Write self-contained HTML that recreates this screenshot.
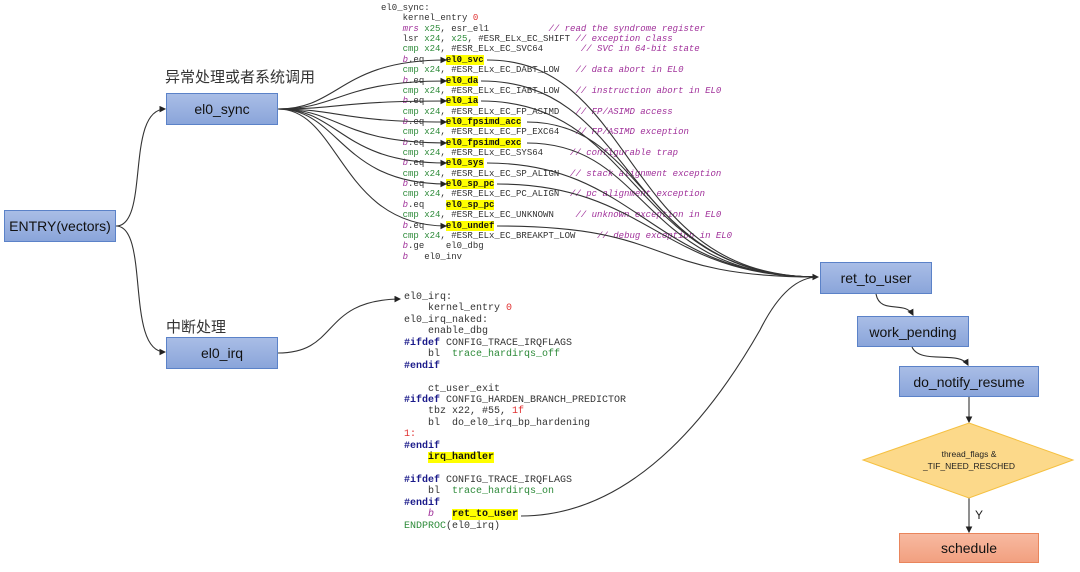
<!DOCTYPE html>
<html><head><meta charset="utf-8"><style>
html,body{margin:0;width:1080px;height:572px;background:#fff;position:relative;overflow:hidden;font-family:"Liberation Sans","Noto Sans CJK SC",sans-serif}
.box{position:absolute;box-sizing:border-box;border:1px solid #5b82c8;background:linear-gradient(#a9bde6,#8aa5da);color:#111;font-size:14px;display:flex;align-items:center;justify-content:center}
.lbl{position:absolute;font-size:15px;color:#333}
.code{position:absolute;font-family:"Liberation Mono",monospace;color:#333}
.code div{white-space:pre}
.c1 div{height:10.37px;line-height:10.37px;font-size:9px}
.c2 div{height:11.45px;line-height:11.45px;font-size:10px}
.g{color:#2e8b3a}.p{color:#a0309a;font-style:italic}.r{color:#e03030}.b{color:#1a1a8a;font-weight:bold}
.hl{background:#ffff00;font-weight:bold;color:#111}
.cm{color:#a0309a;font-style:italic}
svg{position:absolute;left:0;top:0}
</style></head><body>
<div class="lbl" style="left:165px;top:66px">异常处理或者系统调用</div>
<div class="lbl" style="left:166px;top:316px">中断处理</div>
<div class="box" style="left:4px;top:210px;width:112px;height:32px">ENTRY(vectors)</div>
<div class="box" style="left:166px;top:93px;width:112px;height:32px">el0_sync</div>
<div class="box" style="left:166px;top:337px;width:112px;height:32px">el0_irq</div>
<div class="box" style="left:820px;top:262px;width:112px;height:32px">ret_to_user</div>
<div class="box" style="left:857px;top:316px;width:112px;height:31px">work_pending</div>
<div class="box" style="left:899px;top:366px;width:140px;height:31px">do_notify_resume</div>
<div class="box" style="left:899px;top:533px;width:140px;height:30px;background:linear-gradient(#f7b9a0,#f2a080);border-color:#e9855c">schedule</div>
<div class="code c1" style="left:381px;top:3px"><div>el0_sync:</div><div>    kernel_entry <span class="r">0</span></div><div>    <span class="p">mrs</span> <span class="g">x25</span>, esr_el1           <span class="cm">// read the syndrome register</span></div><div>    lsr <span class="g">x24</span>, <span class="g">x25</span>, #ESR_ELx_EC_SHIFT <span class="cm">// exception class</span></div><div>    <span class="g">cmp x24</span>, #ESR_ELx_EC_SVC64       <span class="cm">// SVC in 64-bit state</span></div><div>    <span class="p">b</span>.eq    <span class="hl">el0_svc</span></div><div>    <span class="g">cmp x24</span>, #ESR_ELx_EC_DABT_LOW   <span class="cm">// data abort in EL0</span></div><div>    <span class="p">b</span>.eq    <span class="hl">el0_da</span></div><div>    <span class="g">cmp x24</span>, #ESR_ELx_EC_IABT_LOW   <span class="cm">// instruction abort in EL0</span></div><div>    <span class="p">b</span>.eq    <span class="hl">el0_ia</span></div><div>    <span class="g">cmp x24</span>, #ESR_ELx_EC_FP_ASIMD   <span class="cm">// FP/ASIMD access</span></div><div>    <span class="p">b</span>.eq    <span class="hl">el0_fpsimd_acc</span></div><div>    <span class="g">cmp x24</span>, #ESR_ELx_EC_FP_EXC64   <span class="cm">// FP/ASIMD exception</span></div><div>    <span class="p">b</span>.eq    <span class="hl">el0_fpsimd_exc</span></div><div>    <span class="g">cmp x24</span>, #ESR_ELx_EC_SYS64     <span class="cm">// configurable trap</span></div><div>    <span class="p">b</span>.eq    <span class="hl">el0_sys</span></div><div>    <span class="g">cmp x24</span>, #ESR_ELx_EC_SP_ALIGN  <span class="cm">// stack alignment exception</span></div><div>    <span class="p">b</span>.eq    <span class="hl">el0_sp_pc</span></div><div>    <span class="g">cmp x24</span>, #ESR_ELx_EC_PC_ALIGN  <span class="cm">// pc alignment exception</span></div><div>    <span class="p">b</span>.eq    <span class="hl">el0_sp_pc</span></div><div>    <span class="g">cmp x24</span>, #ESR_ELx_EC_UNKNOWN    <span class="cm">// unknown exception in EL0</span></div><div>    <span class="p">b</span>.eq    <span class="hl">el0_undef</span></div><div>    <span class="g">cmp x24</span>, #ESR_ELx_EC_BREAKPT_LOW    <span class="cm">// debug exception in EL0</span></div><div>    <span class="p">b</span>.ge    el0_dbg</div><div>    <span class="p">b</span>   el0_inv</div></div>
<div class="code c2" style="left:404px;top:292px"><div>el0_irq:</div><div>    kernel_entry <span class="r">0</span></div><div>el0_irq_naked:</div><div>    enable_dbg</div><div><span class="b">#ifdef</span> CONFIG_TRACE_IRQFLAGS</div><div>    bl  <span class="g">trace_hardirqs_off</span></div><div><span class="b">#endif</span></div><div> </div><div>    ct_user_exit</div><div><span class="b">#ifdef</span> CONFIG_HARDEN_BRANCH_PREDICTOR</div><div>    tbz x22, #55, <span class="r">1f</span></div><div>    bl  do_el0_irq_bp_hardening</div><div><span class="r">1:</span></div><div><span class="b">#endif</span></div><div>    <span class="hl">irq_handler</span></div><div> </div><div><span class="b">#ifdef</span> CONFIG_TRACE_IRQFLAGS</div><div>    bl  <span class="g">trace_hardirqs_on</span></div><div><span class="b">#endif</span></div><div>    <span class="p">b</span>   <span class="hl">ret_to_user</span></div><div><span class="g">ENDPROC</span>(el0_irq)</div></div>
<svg width="1080" height="572" viewBox="0 0 1080 572">
<defs><marker id="a" markerWidth="6" markerHeight="6" refX="5" refY="3" orient="auto"><path d="M0,0 L6,3 L0,6z" fill="#222"/></marker></defs>
<g fill="none" stroke="#333" stroke-width="1.1">
<path d="M116,226 C150,226 125,110 165,109" marker-end="url(#a)"/>
<path d="M116,226 C150,226 125,352 165,352" marker-end="url(#a)"/>
<path d="M278,353 C340,353 320,300 400,299" marker-end="url(#a)"/>
<path d="M278,109 C340,109 340,60 446,60" marker-end="url(#a)"/>
<path d="M278,109 C340,109 340,81 446,81" marker-end="url(#a)"/>
<path d="M278,109 C340,109 340,101 446,101" marker-end="url(#a)"/>
<path d="M278,109 C340,109 340,122 446,122" marker-end="url(#a)"/>
<path d="M278,109 C340,109 340,143 446,143" marker-end="url(#a)"/>
<path d="M278,109 C340,109 340,163 446,163" marker-end="url(#a)"/>
<path d="M278,109 C340,109 340,184 446,184" marker-end="url(#a)"/>
<path d="M278,109 C340,109 340,226 446,226" marker-end="url(#a)"/>
<path d="M487,60 C640,60 620,277 818,277"/>
<path d="M481,81 C640,81 620,277 818,277"/>
<path d="M481,101 C640,101 630,277 818,277"/>
<path d="M527,122 C650,122 640,277 818,277"/>
<path d="M527,143 C650,143 640,277 818,277"/>
<path d="M487,163 C640,163 650,277 818,277"/>
<path d="M497,184 C650,184 660,277 818,277"/>
<path d="M497,226 C680,226 640,277 818,277" marker-end="url(#a)"/>
<path d="M521,516 C640,516 720,400 760,330 C780,290 800,277 818,277"/>
<path d="M876,294 C880,315 905,300 913,315" marker-end="url(#a)"/>
<path d="M912,347 C920,365 960,350 968,365" marker-end="url(#a)"/>
<path d="M969,397 L969,422" marker-end="url(#a)"/>
<path d="M969,498 L969,532" marker-end="url(#a)"/>
</g>
<polygon points="969,423 1073,460 969,498 863,460" fill="#fcd98a" stroke="#f5c040"/>
<text x="969" y="457" font-size="8.5" text-anchor="middle" fill="#222" font-family="Liberation Sans">thread_flags &amp;</text>
<text x="969" y="469" font-size="8.5" text-anchor="middle" fill="#222" font-family="Liberation Sans">_TIF_NEED_RESCHED</text>
<text x="975" y="519" font-size="12" fill="#222" font-family="Liberation Sans">Y</text>
</svg>
</body></html>
